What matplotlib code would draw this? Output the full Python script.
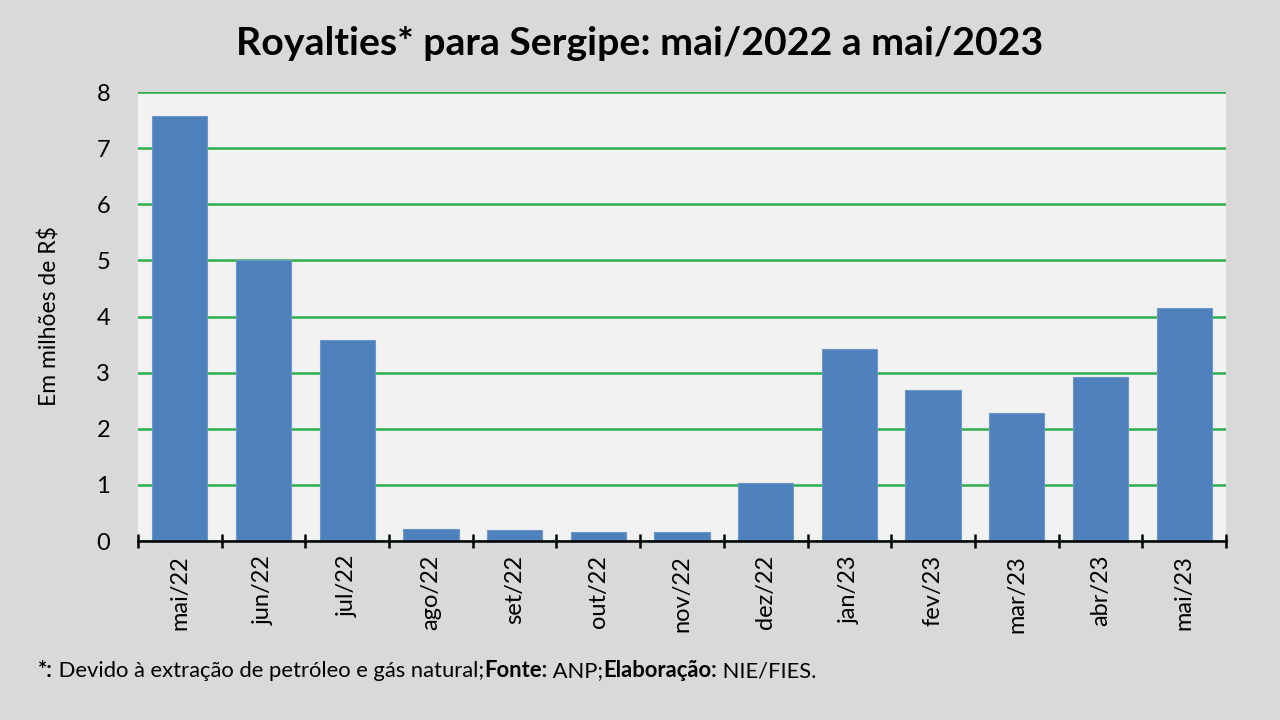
import matplotlib
matplotlib.use("Agg")
import matplotlib.pyplot as plt
import numpy as np

categories = ["mai/22", "jun/22", "jul/22", "ago/22", "set/22", "out/22", "nov/22",
              "dez/22", "jan/23", "fev/23", "mar/23", "abr/23", "mai/23"]
values = [7.57, 5.00, 3.59, 0.21, 0.19, 0.16, 0.16, 1.03, 3.43, 2.69, 2.28, 2.93, 4.15]
y_ticks = [0, 1, 2, 3, 4, 5, 6, 7, 8]

plt.rcParams['font.family'] = ['Lato', 'DejaVu Sans']

fig = plt.figure(figsize=(12.8, 7.2), dpi=100, facecolor="#d9d9d9")
ax = fig.add_axes([0.1078, 0.2486, 0.850, 0.6236])
ax.set_facecolor("#f2f2f2")

x = np.arange(len(categories))
ax.bar(x, values, width=0.66, color="#4f81bd", edgecolor="#6d97c9", linewidth=0.8, zorder=3)

ax.set_xlim(-0.5, len(categories) - 0.5)
ax.set_ylim(0, 8)
ax.set_yticks(y_ticks)
ax.set_yticklabels([str(v) for v in y_ticks], fontsize=17)
ax.yaxis.grid(True, color="#2eae4a", linewidth=1.8, zorder=1)
ax.set_axisbelow(True)
ax.tick_params(axis="y", length=0, pad=20)

ax.set_xticks(x)
ax.set_xticklabels(categories, rotation=90, fontsize=17)
ax.tick_params(axis="x", which="major", length=0, pad=10)
ax.set_xticks(np.arange(-0.5, len(categories), 1.0), minor=True)
ax.tick_params(axis="x", which="minor", direction="inout", length=10, width=1.8, color="black")

for s in ["left", "right", "top"]:
    ax.spines[s].set_visible(False)
ax.spines["bottom"].set_linewidth(1.8)
ax.spines["bottom"].set_zorder(4)

ax.set_ylabel("Em milhões de R$", fontsize=16.5, labelpad=26)

fig.text(0.5, 0.940, "Royalties* para Sergipe: mai/2022 a mai/2023", ha="center", va="center",
         fontsize=28.3, fontweight="bold")

t1 = fig.text(0.0297, 0.054, "*:", fontsize=15.8, fontweight="bold", va="bottom")
parts = [(" Devido à extração de petróleo e gás natural;", "normal"),
         ("Fonte:", "bold"), (" ANP;", "normal"),
         ("Elaboração:", "bold"), (" NIE/FIES.", "normal")]
anchor = t1
for txt, w in parts:
    anchor = ax.annotate(txt, xy=(1, 0), xycoords=anchor, xytext=(0, 0), textcoords="offset points",
                         fontsize=15.8, fontweight=w, va="bottom", ha="left", annotation_clip=False)

fig.savefig("out.png", dpi=100, facecolor=fig.get_facecolor())
